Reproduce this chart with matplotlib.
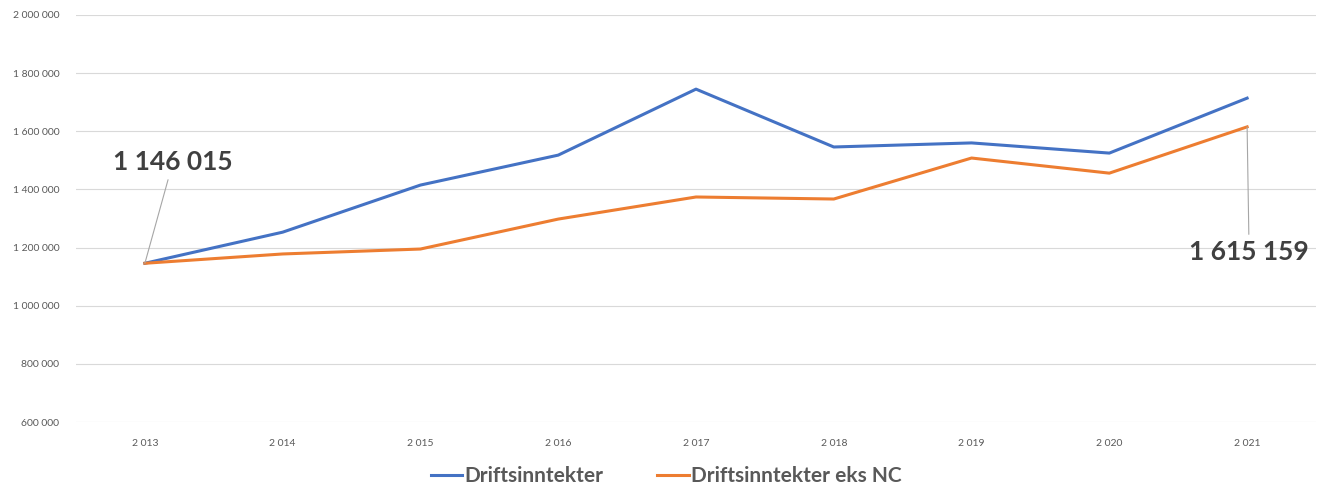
import numpy as np
import matplotlib
matplotlib.use("Agg")
import matplotlib.pyplot as plt
from matplotlib.ticker import FuncFormatter

plt.rcParams['font.family'] = ['Lato', 'DejaVu Sans']

years = ['2 013', '2 014', '2 015', '2 016', '2 017', '2 018', '2 019', '2 020', '2 021']
drift = [1146015, 1253000, 1415000, 1518000, 1745000, 1546000, 1560000, 1525000, 1714000]
drift_eks_nc = [1146015, 1178000, 1195000, 1298000, 1374000, 1367000, 1508000, 1456000, 1615159]
series_names = ['Driftsinntekter', 'Driftsinntekter eks NC']

def fmt(v, pos=None):
    return f"{int(round(v)):,}".replace(",", " ")

fig = plt.figure(figsize=(13.24, 4.88), dpi=100)
ax = fig.add_axes([76/1324, 1-422/488, 1240/1324, 407/488])

x = np.arange(len(years))
ax.plot(x, drift, color='#4472C4', lw=2.2, label=series_names[0], solid_joinstyle='round')
ax.plot(x, drift_eks_nc, color='#ED7D31', lw=2.2, label=series_names[1], solid_joinstyle='round')

ax.set_xlim(-0.5, len(years) - 0.5)
ax.set_ylim(600000, 2000000)
ax.set_yticks(np.arange(600000, 2000001, 200000))
ax.yaxis.set_major_formatter(FuncFormatter(fmt))
ax.set_xticks(x)
ax.set_xticklabels(years)
ax.tick_params(length=0, labelsize=7.5, labelcolor='#595959')
ax.tick_params(axis='x', pad=12)
ax.tick_params(axis='y', pad=12)
ax.grid(axis='y', color='#D9D9D9', lw=0.8)
ax.set_axisbelow(True)
for s in ax.spines.values():
    s.set_visible(False)

ax.annotate(fmt(drift_eks_nc[0]), xy=(0, drift_eks_nc[0]), xytext=(28, 101),
            textcoords='offset pixels', ha='center', va='center',
            fontsize=19, fontweight='bold', color='#404040',
            arrowprops=dict(arrowstyle='-', color='#A6A6A6', lw=0.8, shrinkA=2, shrinkB=0))
ax.annotate(fmt(drift_eks_nc[-1]), xy=(8, drift_eks_nc[-1]), xytext=(2, -125),
            textcoords='offset pixels', ha='center', va='center',
            fontsize=19, fontweight='bold', color='#404040',
            arrowprops=dict(arrowstyle='-', color='#A6A6A6', lw=0.8, shrinkA=2, shrinkB=0))

fig.legend(loc='center', bbox_to_anchor=(666/1324, 1-476/488), ncol=2, frameon=False,
           prop={'size': 15, 'weight': 'bold'}, labelcolor='#595959',
           handlelength=1.5, handletextpad=0.1, columnspacing=2.6)

fig.savefig('out.png', dpi=100)
